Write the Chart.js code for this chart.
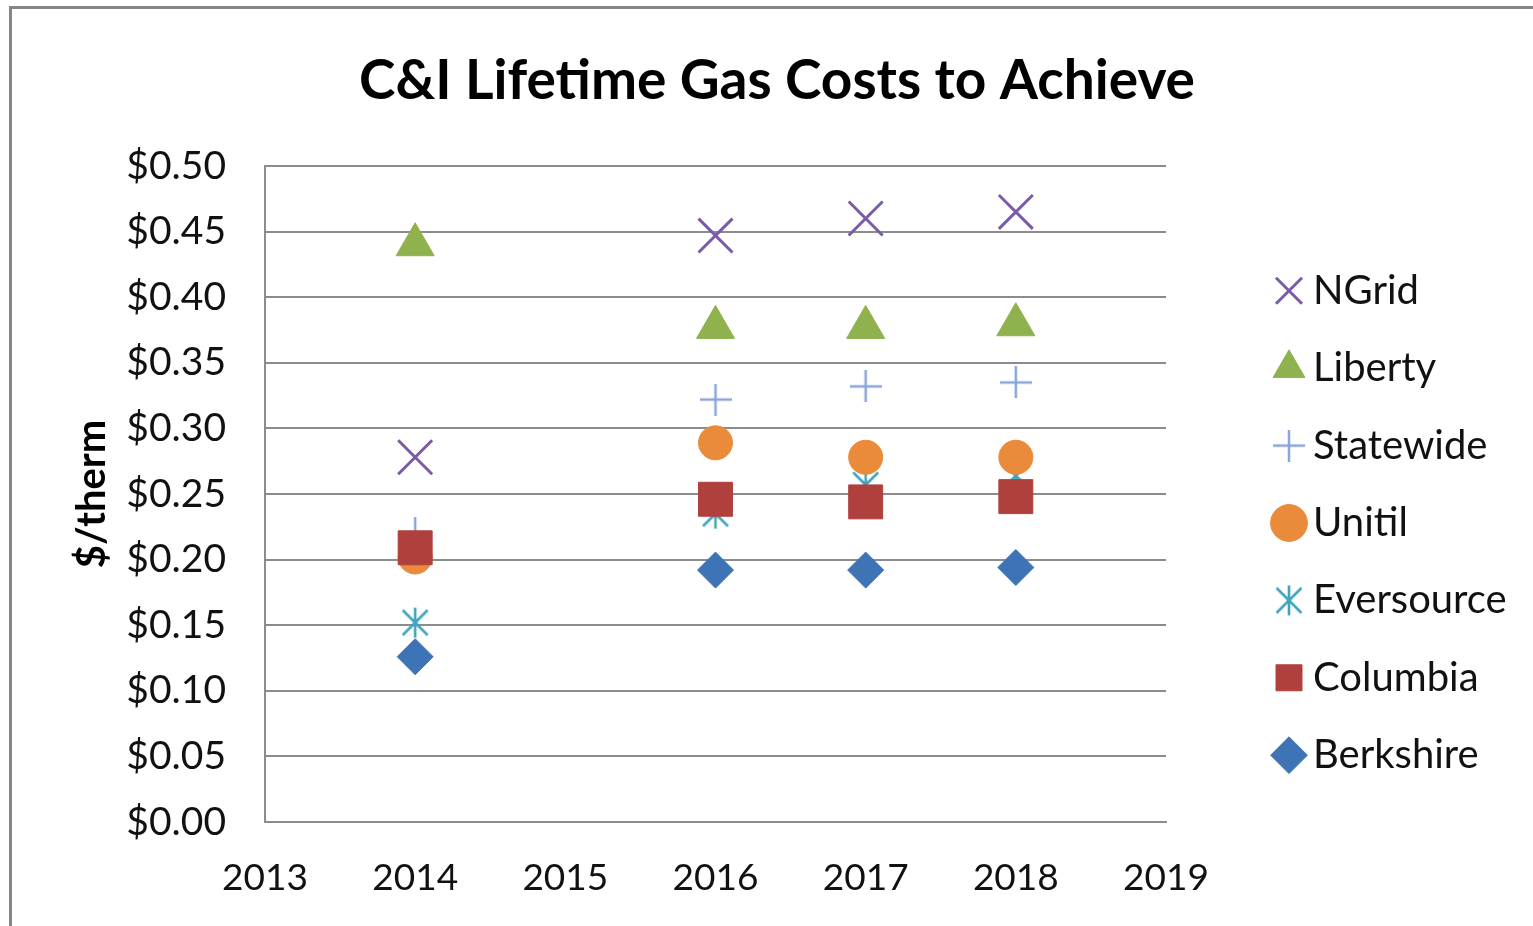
<!DOCTYPE html>
<html>
<head>
<meta charset="utf-8">
<script src="https://cdn.jsdelivr.net/npm/chart.js@4.4.0/dist/chart.umd.min.js"></script>
<style>
  html, body { margin: 0; padding: 0; background: #fff; overflow: hidden; }
  #wrap { position: relative; width: 1533px; height: 926px; overflow: hidden; }
  #frame { position: absolute; left: 9px; top: 6px; width: 1600px; height: 1000px; border: 3px solid #868686; }
  #chartBox { position: absolute; left: 0; top: 0; width: 1533px; height: 926px; }
</style>
</head>
<body>
<div id="wrap">
  <div id="frame"></div>
  <div id="chartBox"><canvas id="scatterChart"></canvas></div>
</div>
<script>
const years = [2014, 2016, 2017, 2018];
const seriesNames = ["NGrid", "Liberty", "Statewide", "Unitil", "Eversource", "Columbia", "Berkshire"];
const ngrid = [0.278, 0.447, 0.460, 0.465];
const liberty = [0.440, 0.377, 0.377, 0.379];
const statewide = [0.220, 0.322, 0.332, 0.335];
const unitil = [0.202, 0.289, 0.278, 0.278];
const eversource = [0.152, 0.235, 0.257, 0.264];
const columbia = [0.209, 0.246, 0.244, 0.248];
const berkshire = [0.126, 0.192, 0.192, 0.194];
const yTicks = [0, 0.05, 0.10, 0.15, 0.20, 0.25, 0.30, 0.35, 0.40, 0.45, 0.50];
const xTicks = [2013, 2014, 2015, 2016, 2017, 2018, 2019];

const fontName = "Lato";

// excel style asterisk, chart.js 'star' has an extra horizontal bar
function asteriskMarker(size, color) {
  const c = document.createElement("canvas");
  c.width = size;
  c.height = size;
  const g = c.getContext("2d");
  const h = size / 2;
  const d = h * 0.78;
  g.strokeStyle = color;
  g.lineWidth = 2.6;
  g.beginPath();
  g.moveTo(h, 1); g.lineTo(h, size - 1);
  g.moveTo(h - d, h - d); g.lineTo(h + d, h + d);
  g.moveTo(h + d, h - d); g.lineTo(h - d, h + d);
  g.stroke();
  return c;
}

// plus sign as image so the legend one is not drawn bigger than the plot one
function plusMarker(size, color) {
  const c = document.createElement("canvas");
  c.width = size;
  c.height = size;
  const g = c.getContext("2d");
  const h = size / 2;
  g.strokeStyle = color;
  g.lineWidth = 2.5;
  g.beginPath();
  g.moveTo(h, 0); g.lineTo(h, size);
  g.moveTo(0, h); g.lineTo(size, h);
  g.stroke();
  return c;
}

function toPoints(vals) {
  return vals.map((v, i) => ({ x: years[i], y: v }));
}

const datasets = [
  { label: seriesNames[0], data: toPoints(ngrid), pointStyle: "crossRot", pointRadius: 24, borderColor: "#7a5ba6", backgroundColor: "#7a5ba6", borderWidth: 3, order: 5 },
  { label: seriesNames[1], data: toPoints(liberty), pointStyle: "triangle", pointRadius: 22, borderColor: "#8fb24e", backgroundColor: "#8fb24e", borderWidth: 1, order: 6 },
  { label: seriesNames[2], data: toPoints(statewide), pointStyle: plusMarker(32, "#8aa5da"), pointRadius: 16, borderColor: "#8aa5da", backgroundColor: "#8aa5da", borderWidth: 2.5, order: 3 },
  { label: seriesNames[3], data: toPoints(unitil), pointStyle: "circle", pointRadius: 17, borderColor: "#ea8b3c", backgroundColor: "#ea8b3c", borderWidth: 1, order: 1 },
  { label: seriesNames[4], data: toPoints(eversource), pointStyle: asteriskMarker(32, "#3fa4bd"), pointRadius: 16, borderColor: "#3fa4bd", backgroundColor: "#3fa4bd", borderWidth: 2.6, order: 2 },
  { label: seriesNames[5], data: toPoints(columbia), pointStyle: "rect", pointRadius: 24, borderColor: "#b0403d", backgroundColor: "#b0403d", borderWidth: 1, order: 0 },
  { label: seriesNames[6], data: toPoints(berkshire), pointStyle: "rectRot", pointRadius: 18, borderColor: "#3e74b6", backgroundColor: "#3e74b6", borderWidth: 1, order: 4 }
];

const config = {
  type: "scatter",
  data: { datasets: datasets },
  options: {
    responsive: true,
    maintainAspectRatio: false,
    animation: false,
    events: [],
    layout: { padding: { left: 44.4, right: 23.4, top: 0, bottom: 0 } },
    plugins: {
      title: {
        display: true,
        text: "C&I Lifetime Gas Costs to Achieve",
        color: "#000",
        font: { family: fontName, size: 55, weight: "bold" },
        padding: { top: 48, bottom: 52 }
      },
      legend: {
        position: "right",
        maxWidth: 262,
        title: { display: true, text: " ", font: { size: 10 }, padding: { top: 108, bottom: 0 } },
        labels: {
          usePointStyle: true,
          boxWidth: 8,
          boxHeight: 26,
          padding: 37.4,
          color: "#111",
          font: { family: fontName, size: 40 },
          sort: (a, b) => a.datasetIndex - b.datasetIndex
        }
      },
      tooltip: { enabled: false }
    },
    scales: {
      x: {
        type: "linear",
        min: 2013,
        max: 2019,
        afterBuildTicks: (scale) => { scale.ticks = xTicks.map((v) => ({ value: v })); },
        afterFit: (scale) => { scale.height = 104; },
        ticks: { color: "#111", font: { family: fontName, size: 37 }, padding: 34, callback: (v) => String(v) },
        grid: { display: false, drawTicks: false },
        border: { display: true, color: "#8c8c8c", width: 2 }
      },
      y: {
        min: 0,
        max: 0.5,
        afterBuildTicks: (scale) => { scale.ticks = yTicks.map((v) => ({ value: v })); },
        afterFit: (scale) => { scale.width = 220.6; },
        ticks: { color: "#111", font: { family: fontName, size: 39 }, padding: 39, callback: (v) => "$" + v.toFixed(2) },
        grid: { color: "#8c8c8c", lineWidth: 2, drawTicks: false },
        border: { display: true, color: "#8c8c8c", width: 2 },
        title: {
          display: true,
          text: "$/therm",
          color: "#000",
          font: { family: fontName, size: 40, weight: "bold" },
          padding: { top: 23.6, bottom: 0 }
        }
      },
      // empty axis, only keeps the gap between plot and legend
      gap: {
        type: "linear",
        position: "right",
        display: true,
        afterFit: (scale) => { scale.width = 81.6; },
        ticks: { display: false },
        grid: { display: false, drawTicks: false },
        border: { display: false }
      }
    }
  }
};

const myChart = new Chart(document.getElementById("scatterChart"), config);
</script>
</body>
</html>
